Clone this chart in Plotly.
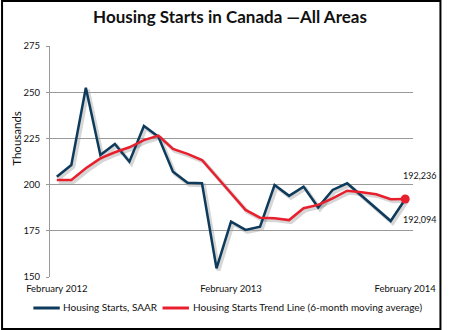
import plotly.graph_objects as go

months = list(range(25))
tick_vals = [0, 12, 24]
tick_text = ["February 2012", "February 2013", "February 2014"]

saar = [204.3, 210.6, 252.4, 216.0, 222.0, 212.4, 231.7, 225.9, 207.0, 201.0,
        200.7, 154.7, 180.0, 175.5, 177.2, 199.8, 193.9, 198.9, 187.7, 197.1,
        200.7, 194.0, 187.2, 180.3, 192.094]
trend = [202.5, 202.5, 208.8, 214.2, 217.5, 220.2, 224.1, 226.5, 219.3, 216.6,
         213.3, 204.5, 195.3, 186.3, 182.1, 181.8, 180.8, 187.2, 189.0, 192.6,
         196.7, 195.8, 194.8, 192.1, 192.236]
names = ["Housing Starts, SAAR", "Housing Starts Trend Line (6-month moving average)"]
end_labels = ["192,236", "192,094"]

blue = "#0e3b5c"
red = "#e8202e"
font = "Lato"

W, H = 450, 330
ml, mr, mt, mb = 50, 27, 46, 51
pw, ph = W - ml - mr, H - mt - mb
dx, dy = 2 / pw, 2 / ph

fig = go.Figure()
# shadows on x/y (drawn first, offset right/down)
for ys in (saar, trend):
    fig.add_trace(go.Scatter(x=months, y=ys, mode="lines", xaxis="x", yaxis="y",
                             line=dict(color="rgba(0,0,0,0.16)", width=4),
                             showlegend=False, hoverinfo="skip"))
fig.add_trace(go.Scatter(x=months, y=saar, mode="lines", name=names[0], xaxis="x2", yaxis="y2",
                         line=dict(color=blue, width=2.5), showlegend=False))
fig.add_trace(go.Scatter(x=months, y=trend, mode="lines", name=names[1], xaxis="x2", yaxis="y2",
                         line=dict(color=red, width=2.5), showlegend=False))
fig.add_trace(go.Scatter(x=[months[-1]], y=[trend[-1]], mode="markers", showlegend=False,
                         xaxis="x2", yaxis="y2", marker=dict(color=red, size=9)))

xr = [-0.47, 24.54]
yr = [150, 275]
fig.update_layout(
    width=W, height=H, margin=dict(l=ml, r=mr, t=mt, b=mb),
    paper_bgcolor="white", plot_bgcolor="rgba(0,0,0,0)",
    font=dict(family=font, color="#222", size=10),
    title=dict(text="<b>Housing Starts in Canada —All Areas</b>", x=230 / W, xanchor="center",
               y=1 - 17 / H, yanchor="middle", font=dict(size=17, color="#111")),
    xaxis=dict(range=xr, domain=[dx, 1], anchor="y", visible=False),
    yaxis=dict(range=yr, domain=[0, 1 - dy], anchor="x", visible=False),
    xaxis2=dict(range=xr, domain=[0, 1 - dx], anchor="y2", tickvals=tick_vals, ticktext=tick_text,
                showgrid=False, showline=False, zeroline=False, ticks="",
                tickfont=dict(size=9.5, color="#111"), ticklabelstandoff=4),
    yaxis2=dict(range=yr, domain=[dy, 1], anchor="x2", tickvals=[150, 175, 200, 225, 250, 275],
                showgrid=True, gridcolor="#9a9a9a", gridwidth=1, zeroline=False,
                showline=True, linecolor="#9a9a9a", linewidth=1,
                ticks="outside", ticklen=3, tickcolor="#9a9a9a",
                tickfont=dict(size=9.5, color="#111"), ticklabelstandoff=4),
    showlegend=False,
)

def px_x(p):
    return (p - ml) / pw

def px_y(p):
    return 1 - (p - mt) / ph

# custom legend
leg_y = 308
for (x0, x1, tx), col, nm in zip([(33, 60, 61), (165, 192, 194)], [blue, red], names):
    fig.add_shape(type="line", xref="paper", yref="paper", x0=px_x(x0), x1=px_x(x1),
                  y0=px_y(leg_y), y1=px_y(leg_y), line=dict(color=col, width=3))
    fig.add_annotation(text=nm, x=px_x(tx), y=px_y(leg_y - 1), xref="paper", yref="paper",
                       xanchor="left", yanchor="middle", showarrow=False,
                       font=dict(size=10, color="#111"))

fig.add_annotation(text="Thousands", x=px_x(15), y=px_y(138), xref="paper",
                   yref="paper", textangle=-90, showarrow=False, xanchor="center",
                   yanchor="middle", font=dict(size=11.5, color="#111"))
for lab, yp in zip(end_labels, (175, 219)):
    fig.add_annotation(text=lab, x=px_x(428), y=px_y(yp), xref="paper", yref="paper",
                       xanchor="center", yanchor="middle", showarrow=False,
                       font=dict(size=9, color="#111"))
fig.add_shape(type="rect", xref="paper", yref="paper",
              x0=px_x(1), x1=px_x(W - 1), y0=px_y(H - 1), y1=px_y(1),
              line=dict(color="black", width=2), layer="above")

fig.write_html("out.html")
